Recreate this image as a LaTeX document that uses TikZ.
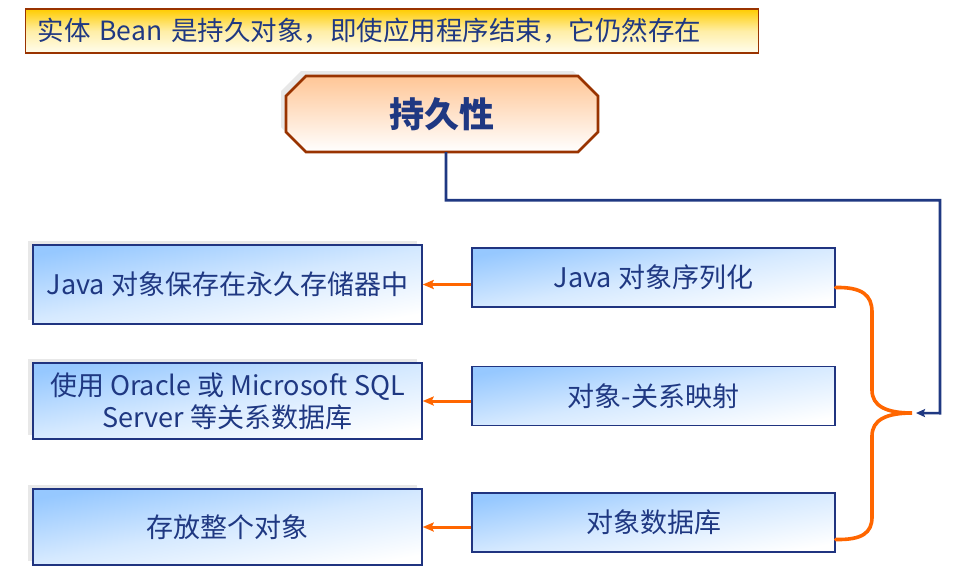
\documentclass[tikz,border=0pt]{standalone}
\usepackage{fontspec}
\setmainfont{Noto Sans CJK SC}
\usetikzlibrary{arrows.meta,calc,shadows}
\definecolor{navy}{RGB}{31,56,130}
\definecolor{brd}{RGB}{32,52,128}
\definecolor{orng}{RGB}{255,102,0}
\definecolor{brwn}{RGB}{153,51,0}
\definecolor{lblue}{RGB}{150,200,255}
\definecolor{shad}{RGB}{232,232,232}
\definecolor{gold}{RGB}{255,204,0}
\definecolor{paleyel}{RGB}{255,253,238}
\definecolor{peach}{RGB}{255,198,150}
\begin{document}
\begin{tikzpicture}[x=1pt,y=-1pt,
  bluebox/.style={draw=brd, line width=1.4pt, top color=lblue, bottom color=white,
    middle color=lblue!40!white, shading angle=10,
    text=navy, font=\fontsize{27pt}{32pt}\selectfont, align=center, inner sep=0pt},
  leftbox/.style={bluebox, minimum width=389pt, minimum height=77pt,
    drop shadow={shadow xshift=-5pt, shadow yshift=4pt, fill=shad, opacity=1}},
  rightbox/.style={bluebox, minimum width=363pt, minimum height=59pt},
  oarrow/.style={draw=orng, line width=3pt, -{Stealth[length=11pt,width=9pt,inset=2pt]}},
  bline/.style={draw=navy, line width=2.6pt, -{Stealth[length=9pt,width=8pt,inset=1.5pt]}},
  brace/.style={draw=orng, line width=3.6pt, line cap=round}]
\useasboundingbox[fill=white] (0,0) rectangle (964,579);

% banner
\node[draw=brwn, line width=1.3pt, top color=gold, bottom color=paleyel, middle color=paleyel!70!gold,
  anchor=west, text width=709pt, inner xsep=12pt, minimum height=44pt, align=left,
  text=navy, font=\fontsize{26.5pt}{32pt}\selectfont] (banner) at (25,31)
  {实体 Bean 是持久对象，即使应用程序结束，它仍然存在};

% title octagon
\fill[shad] (301,71) -- (573,71) -- (593,91) -- (593,127) -- (573,147) -- (301,147) -- (281,127) -- (281,91) -- cycle;
\draw[brwn, line width=2.6pt, top color=peach, bottom color=white]
  (306,76) -- (578,76) -- (598,96) -- (598,132) -- (578,152) -- (306,152) -- (286,132) -- (286,96) -- cycle;
\node[minimum width=312pt, minimum height=76pt, inner sep=0pt, text=navy,
  font=\fontsize{35pt}{40pt}\selectfont\bfseries] (title) at (442,114) {持久性};

% right boxes
\node[rightbox] (rA) at (653.5,277.5) {Java 对象序列化};
\node[rightbox] (rB) at (653.5,396) {对象-关系映射};
\node[rightbox] (rC) at (653.5,522.5) {对象数据库};

% left boxes
\node[leftbox, minimum height=79pt] (lA) at (227.5,284.5) {Java 对象保存在永久存储器中};
\node[leftbox, minimum height=76pt] (lB) at (227.5,401) {使用 Oracle 或 Microsoft SQL\\Server 等关系数据库};
\node[leftbox, minimum height=76pt] (lC) at (227.5,527) {存放整个对象};

% orange arrows
\draw[oarrow] (rA.west |- lA.east) -- (lA.east);
\draw[oarrow] (rB.west |- lB.east) -- (lB.east);
\draw[oarrow] (rC.west |- lC.east) -- (lC.east);

% brace
\coordinate (btip) at (912,413);
\draw[brace] ($(rA.east)+(0,10)$) .. controls (862,287) and (872,295) .. (872,312)
  -- (872,390) .. controls (872,406) and (886,413) .. (btip)
  .. controls (886,413) and (872,420) .. (872,436)
  -- (872,517) .. controls (872,533) and (862,540) .. ($(rC.east)+(0,17)$);

% blue connector
\draw[bline] ($(title.south)+(4,0)$) -- ++(0,48) -- ++(494,0) -- ++(0,213) -- ($(btip)+(4,0)$);
\end{tikzpicture}
\end{document}
